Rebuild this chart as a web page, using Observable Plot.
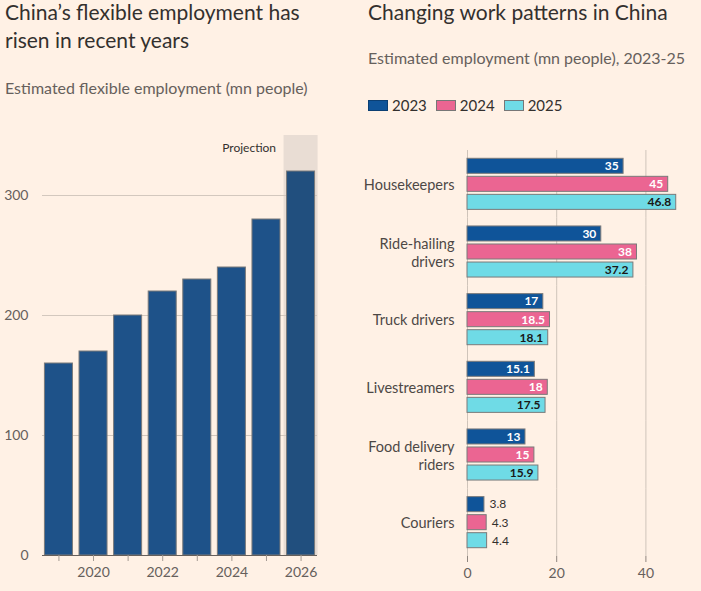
<!DOCTYPE html>
<html><head><meta charset="utf-8">
<script src="https://cdn.jsdelivr.net/npm/d3@7"></script>
<script src="https://cdn.jsdelivr.net/npm/@observablehq/plot@0.6"></script>
<style>
body{margin:0;background:#fff1e5;width:701px;height:591px;overflow:hidden;font-family:Lato,sans-serif;position:relative}
.t{position:absolute;color:#33302e;font-size:21px;font-weight:400;line-height:28px;white-space:nowrap}
.s{position:absolute;color:#66605c;font-size:16px;line-height:19px;white-space:nowrap}
.lg{position:absolute;left:368px;top:96px;display:flex;align-items:center;font-size:15px;color:#33302e}
.lg span.sw{display:inline-block;width:18px;height:9px;margin-right:4px;border:1px solid #555}
.lg span.it{display:flex;align-items:center;margin-right:9px}
.chart{position:absolute}
</style></head><body>
<div class="t" style="left:5px;top:-2px">China’s flexible employment has<br>risen in recent years</div>
<div class="s" style="left:5px;top:78px">Estimated flexible employment (mn people)</div>
<div class="t" style="left:368px;top:-2px">Changing work patterns in China</div>
<div class="s" style="left:368px;top:48px">Estimated employment (mn people), 2023-25</div>
<div class="lg" id="legend"></div>
<div class="chart" id="left" style="left:0;top:125px"></div>
<div class="chart" id="right" style="left:350px;top:140px"></div>
<script>
// Left chart data
const years = [2019, 2020, 2021, 2022, 2023, 2024, 2025, 2026];
const flexEmployment = [160, 170, 200, 220, 230, 240, 280, 320];
const projectionYear = 2026;
const leftTicks = [0, 100, 200, 300];

// Right chart data
const categories = ["Housekeepers", "Ride-hailing drivers", "Truck drivers", "Livestreamers", "Food delivery riders", "Couriers"];
const categoryLabels = ["Housekeepers", "Ride-hailing\ndrivers", "Truck drivers", "Livestreamers", "Food delivery\nriders", "Couriers"];
const seriesYears = ["2023", "2024", "2025"];
const values2023 = [35, 30, 17, 15.1, 13, 3.8];
const values2024 = [45, 38, 18.5, 18, 15, 4.3];
const values2025 = [46.8, 37.2, 18.1, 17.5, 15.9, 4.4];
const seriesColors = ["#0f5499", "#eb6592", "#6fdbe6"];
const labelColors = ["#ffffff", "#ffffff", "#1a1817"];
const rightTicks = [0, 20, 40];

const leftData = years.map((y, i) => ({year: y, value: flexEmployment[i]}));
const seriesValues = [values2023, values2024, values2025];
const rightData = categories.flatMap((c, i) => seriesYears.map((s, j) => ({cat: c, year: s, value: seriesValues[j][i]})));

// Legend
const lg = document.getElementById("legend");
seriesYears.forEach((s, j) => {
  const it = document.createElement("span"); it.className = "it";
  const sw = document.createElement("span"); sw.className = "sw"; sw.style.background = seriesColors[j];
  sw.style.borderColor = j === 0 ? "#0b3f73" : "#777";
  it.appendChild(sw); it.appendChild(document.createTextNode(s)); lg.appendChild(it);
});

const leftPlot = Plot.plot({
  width: 340, height: 466,
  marginTop: 10, marginLeft: 42, marginRight: 23, marginBottom: 36,
  style: {background: "transparent", fontFamily: "Lato, sans-serif", fontSize: "14px", color: "#66605c"},
  x: {type: "band", domain: years, paddingInner: 0.19, paddingOuter: 0.07, round: false, label: null},
  y: {domain: [0, 350], label: null},
  marks: [
    Plot.barY([projectionYear], {x: d => d, y1: 0, y2: 350, fill: "#e9ddd4", insetLeft: -3, insetRight: -3}),
    Plot.ruleY(leftTicks.filter(d => d > 0), {stroke: "#d3c8be"}),
    Plot.barY(leftData, {x: "year", y: "value", fill: d => d.year === projectionYear ? "#214f7e" : "#1e5289", stroke: "#7a7a7a", strokeWidth: 1}),
    Plot.ruleY([0], {stroke: "#66605c"}),
    Plot.axisY({ticks: leftTicks, tickSize: 0, tickPadding: 14, fontSize: 14, fill: "#66605c"}),
    Plot.axisX({tickSize: 6, tickPadding: 6, fontSize: 14, stroke: "#a49a92", fill: "#66605c", tickFormat: d => d % 2 === 0 ? String(d) : ""}),
    Plot.text(["Projection"], {x: () => projectionYear, y: () => 350, text: d => d, textAnchor: "end", dx: -25, dy: 13, fontSize: 12, fill: "#33302e"})
  ]
});
document.getElementById("left").appendChild(leftPlot);

const rightPlot = Plot.plot({
  width: 351, height: 451,
  marginTop: 10, marginLeft: 117, marginRight: 11, marginBottom: 35,
  style: {background: "transparent", fontFamily: "Lato, sans-serif", fontSize: "14px", color: "#66605c"},
  fy: {domain: categories, padding: 0, round: false, label: null},
  y: {domain: seriesYears, paddingInner: 0.167, paddingOuter: 0.46, round: false, axis: null},
  x: {domain: [0, 50], label: null},
  marks: [
    Plot.ruleX(rightTicks, {stroke: "#cfc4ba"}),
    ...seriesYears.map((s, j) => Plot.barX(rightData.filter(d => d.year === s), {fy: "cat", y: "year", x: "value", fill: seriesColors[j], stroke: "#7a7a7a", strokeWidth: 1})),
    ...seriesYears.map((s, j) => Plot.text(rightData.filter(d => d.year === s && d.value >= 10), {fy: "cat", y: "year", x: "value", text: d => String(d.value), textAnchor: "end", dx: -5, fill: labelColors[j], fontSize: 12, fontWeight: 700})),
    Plot.text(rightData.filter(d => d.value < 10), {fy: "cat", y: "year", x: "value", text: d => String(d.value), textAnchor: "start", dx: 5, fill: "#33302e", fontSize: 12}),
    Plot.axisFy({anchor: "left", tickSize: 0, tickPadding: 13, fontSize: 14.5, fill: "#4d4845", lineHeight: 1.25, tickFormat: d => categoryLabels[categories.indexOf(d)]}),
    Plot.axisX({ticks: rightTicks, tickSize: 6, tickPadding: 6, fontSize: 14, stroke: "#8f867f", fill: "#66605c", line: true})
  ]
});
document.getElementById("right").appendChild(rightPlot);
</script>
</body></html>
